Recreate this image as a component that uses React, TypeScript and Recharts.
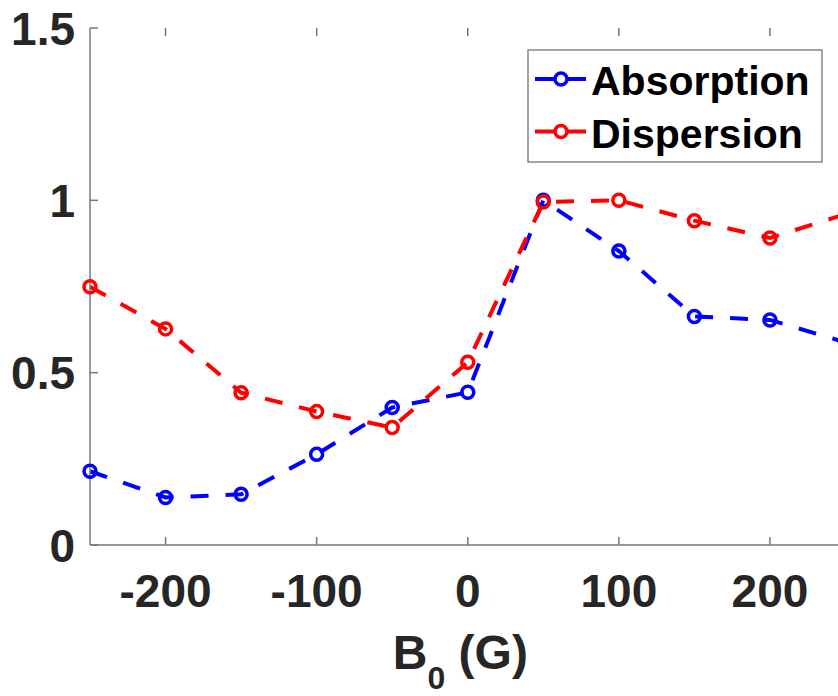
import React from "react";
import { LineChart, Line, XAxis, YAxis } from "recharts";

const xValues = [-250, -200, -150, -100, -50, 0, 50, 100, 150, 200, 250];
const absorption = [0.214, 0.138, 0.147, 0.263, 0.399, 0.443, 1.0, 0.853, 0.663, 0.653, 0.588];
const dispersion = [0.749, 0.627, 0.442, 0.387, 0.341, 0.53, 0.995, 1.0, 0.941, 0.891, 0.96];
const xTicks = [-200, -100, 0, 100, 200];
const yTicks = [0, 0.5, 1, 1.5];
const seriesNames = ["Absorption", "Dispersion"];
const seriesColors = ["#0000ff", "#ff0000"];

const data = xValues.map((x, i) => ({ x, absorption: absorption[i], dispersion: dispersion[i] }));

const FONT = "'Liberation Sans', Arial, Helvetica, sans-serif";
const TICK_COLOR = "#262626";
const AXIS_COLOR = "#777777";
const PLOT_TOP = 28;

const YTick = (props: any) => {
  const { x, y, payload } = props;
  return (
    <g>
      <line x1={x} x2={x + 8} y1={y} y2={y} stroke={AXIS_COLOR} strokeWidth={1.5} />
      <text x={x - 15} y={y + 16.5} textAnchor="end" fontFamily={FONT} fontWeight="bold" fontSize={46} fill={TICK_COLOR}>
        {String(payload.value)}
      </text>
    </g>
  );
};

const XTick = (props: any) => {
  const { x, y, payload } = props;
  return (
    <g>
      <line x1={x} x2={x} y1={y} y2={y - 8} stroke={AXIS_COLOR} strokeWidth={1.5} />
      <line x1={x} x2={x} y1={PLOT_TOP} y2={PLOT_TOP + 8} stroke={AXIS_COLOR} strokeWidth={1.5} />
      <text x={x} y={y + 62} textAnchor="middle" fontFamily={FONT} fontWeight="bold" fontSize={46} fill={TICK_COLOR}>
        {String(payload.value)}
      </text>
    </g>
  );
};

const EmptyTick = () => <g />;

const makeDot = (color: string) => (props: any) => {
  const { cx, cy, index } = props;
  if (cx == null || cy == null) return <g key={index} />;
  return <circle key={index} cx={cx} cy={cy} r={6} fill="none" stroke={color} strokeWidth={3.5} />;
};

const AxisTitle = (props: any) => {
  const vb = props.viewBox || {};
  const cx = vb.x + vb.width / 2;
  return (
    <text x={cx - 75} y={669} textAnchor="start" fontFamily={FONT} fontWeight="bold" fontSize={48} fill={TICK_COLOR}>
      B
      <tspan fontSize={32} dy={20}>0</tspan>
      <tspan fontSize={48} dy={-20}> (G)</tspan>
    </text>
  );
};

const LegendBox = () => (
  <svg width={296} height={114} style={{ display: "block" }}>
    <rect x={1} y={1} width={294} height={112} fill="#ffffff" stroke="#888888" strokeWidth={1.5} />
    {seriesNames.map((name, i) => {
      const cy = 30 + i * 52.5;
      return (
        <g key={name}>
          <line x1={8} x2={59} y1={cy} y2={cy} stroke={seriesColors[i]} strokeWidth={4} />
          <circle cx={34} cy={cy} r={6} fill="#ffffff" stroke={seriesColors[i]} strokeWidth={3.5} />
          <text x={64} y={cy + 16} fontFamily={FONT} fontWeight="bold" fontSize={41} fill="#000000">
            {name}
          </text>
        </g>
      );
    })}
  </svg>
);

export default function App() {
  return (
    <div style={{ position: "absolute", left: 0, top: 0, width: 838, height: 696, overflow: "hidden", background: "#ffffff" }}>
      <LineChart width={886} height={696} data={data} margin={{ top: PLOT_TOP, right: 40.5, bottom: 0, left: 0 }}>
        <XAxis
          dataKey="x"
          type="number"
          domain={[-250, 250]}
          ticks={xTicks}
          tickSize={0}
          tickMargin={0}
          height={151}
          axisLine={{ stroke: AXIS_COLOR, strokeWidth: 1.5 }}
          tickLine={false}
          tick={<XTick />}
          interval={0}
          label={{ content: (p: any) => <AxisTitle {...p} /> }}
        />
        <XAxis
          xAxisId="top"
          dataKey="x"
          type="number"
          orientation="top"
          domain={[-250, 250]}
          ticks={xTicks}
          height={0}
          tickSize={0}
          tickMargin={0}
          axisLine={{ stroke: AXIS_COLOR, strokeWidth: 1.5 }}
          tickLine={false}
          tick={<EmptyTick />}
        />
        <YAxis
          type="number"
          domain={[0, 1.5]}
          ticks={yTicks}
          width={90}
          tickSize={0}
          tickMargin={0}
          axisLine={{ stroke: AXIS_COLOR, strokeWidth: 1.5 }}
          tickLine={false}
          tick={<YTick />}
          interval={0}
        />
        <Line
          name={seriesNames[0]}
          dataKey="absorption"
          type="linear"
          stroke={seriesColors[0]}
          strokeWidth={4}
          strokeDasharray="18 17"
          dot={makeDot(seriesColors[0])}
          activeDot={false}
          isAnimationActive={false}
        />
        <Line
          name={seriesNames[1]}
          dataKey="dispersion"
          type="linear"
          stroke={seriesColors[1]}
          strokeWidth={4}
          strokeDasharray="18 17"
          dot={makeDot(seriesColors[1])}
          activeDot={false}
          isAnimationActive={false}
        />
      </LineChart>
      <div style={{ position: "absolute", left: 527, top: 49 }}>
        <LegendBox />
      </div>
    </div>
  );
}
